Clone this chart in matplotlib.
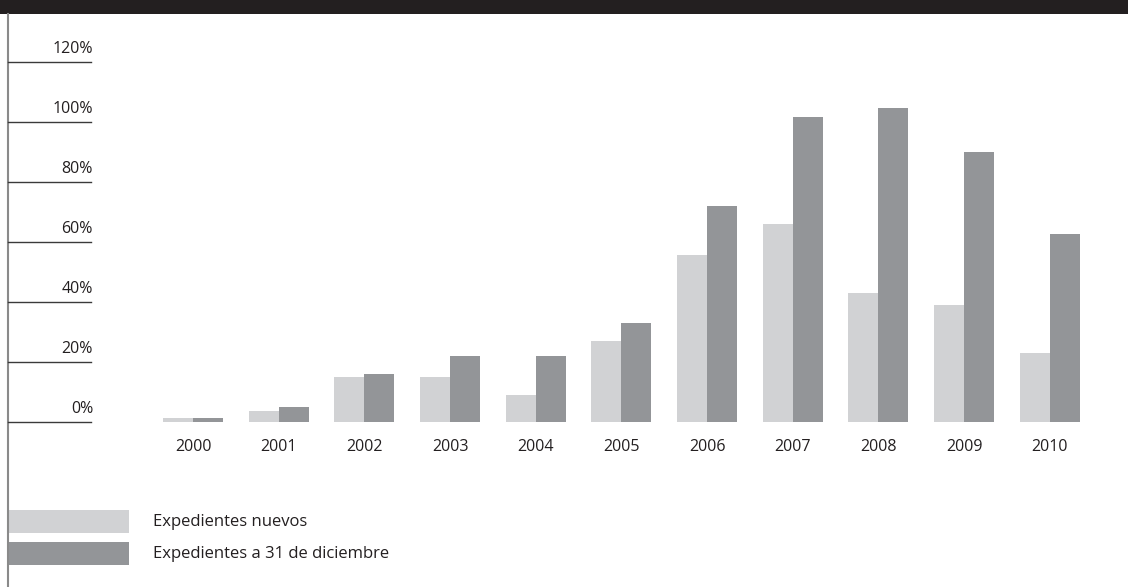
import matplotlib.pyplot as plt
from matplotlib.patches import Rectangle

years = ["2000", "2001", "2002", "2003", "2004", "2005",
         "2006", "2007", "2008", "2009", "2010"]
nuevos = [1.3, 3.7, 15, 15, 9, 27, 55.7, 66, 43, 39, 23]
diciembre = [1.3, 5, 16, 22, 22, 33, 72, 101.7, 104.7, 90, 62.7]
y_ticks = [0, 20, 40, 60, 80, 100, 120]
legend_labels = ["Expedientes nuevos", "Expedientes a 31 de diciembre"]

LIGHT = "#d1d2d4"
DARK = "#939598"
W, H = 1128, 587
PX_X = 85.67          # pixels per year slot
PX_Y = 3.0            # pixels per percent
X0, Y0 = 193, 422     # pixel position of 2000 / 0 %


def px(x):
    return (x - X0) / PX_X


def py(y):
    return (Y0 - y) / PX_Y


plt.rcParams["font.family"] = ["Open Sans", "DejaVu Sans"]

fig = plt.figure(figsize=(W / 100, H / 100), dpi=100)
ax = fig.add_axes([0, 0, 1, 1])
ax.set_xlim(px(0), px(W))
ax.set_ylim(py(H), py(0))
ax.axis("off")

# header band
ax.add_patch(Rectangle((px(0), py(14)), px(W) - px(0), py(0) - py(14),
                       color="#231f20", lw=0, clip_on=False))
# left rule
ax.plot([px(8), px(8)], [py(H), py(14)], color="#8a8a8a", lw=1.5)

# y grid stubs and labels
for t in y_ticks:
    ax.plot([px(8), px(91)], [t, t], color="#3a3a3a", lw=1)
    ax.text(px(93), t + 4.3, f"{t}%", ha="right", va="center",
            fontsize=11.5, color="#231f20")

xs = list(range(len(years)))
bw = 30 / PX_X
ax.bar([x - bw / 2 for x in xs], nuevos, width=bw, color=LIGHT, lw=0)
ax.bar([x + bw / 2 for x in xs], diciembre, width=bw, color=DARK, lw=0)

for x, lab in zip(xs, years):
    ax.text(x, py(447), lab, ha="center", va="center",
            fontsize=11.5, color="#231f20")

# legend
for (top, bot), col, lab in zip([(510, 533), (542, 565)], [LIGHT, DARK], legend_labels):
    ax.add_patch(Rectangle((px(8), py(bot)), px(129) - px(8), py(top) - py(bot),
                           color=col, lw=0))
    ax.text(px(153), py((top + bot) / 2), lab, ha="left", va="center",
            fontsize=12, color="#231f20")

fig.savefig("out.png", dpi=100)
